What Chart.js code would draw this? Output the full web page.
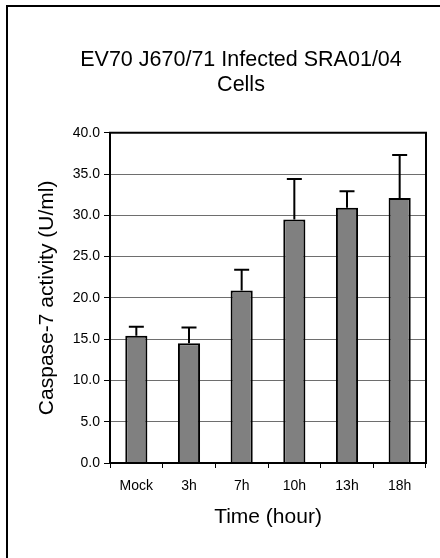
<!DOCTYPE html>
<html>
<head>
<meta charset="utf-8">
<title>Caspase-7 activity</title>
<script src="https://cdn.jsdelivr.net/npm/chart.js"></script>
<style>
	html, body { margin: 0; padding: 0; background: #fff; }
	#chart-box { width: 440px; height: 558px; }
</style>
</head>
<body>
<div id="chart-box"><canvas id="bar-chartcanvas"></canvas></div>
<script>
var categories = ["Mock", "3h", "7h", "10h", "13h", "18h"];
var caspase7 = [15.4, 14.5, 20.9, 29.5, 30.9, 32.1];
var errorUp = [1.1, 1.9, 2.5, 4.9, 2.0, 5.2];
var yTicks = [0, 5, 10, 15, 20, 25, 30, 35, 40];
var titleLines = ["EV70 J670/71 Infected SRA01/04", "Cells"];

Chart.defaults.font.family = "'Liberation Sans', Arial, sans-serif";
Chart.defaults.color = "#000";

/**
 * white page + the outer frame (only top and left show, the rest is cut off)
 * and the black box round the plot area
 */
var framePlugin = {
	id : "frame",
	beforeDraw : function(chart) {
		var ctx = chart.ctx;
		ctx.save();
		ctx.fillStyle = "#fff";
		ctx.fillRect(0, 0, chart.width, chart.height);
		ctx.strokeStyle = "#000";
		ctx.lineWidth = 2;
		ctx.strokeRect(7, 6, chart.width + 20, chart.height + 20);
		ctx.restore();
	},
	afterDraw : function(chart) {
		var a = chart.chartArea;
		var ctx = chart.ctx;
		ctx.save();
		ctx.strokeStyle = "#000";
		ctx.lineWidth = 2;
		ctx.strokeRect(a.left, a.top, a.right - a.left, a.bottom - a.top);
		ctx.restore();
	}
};

// upper error bars, drawn from the data through the y scale
var errorBarPlugin = {
	id : "errorBars",
	afterDatasetsDraw : function(chart) {
		var ctx = chart.ctx;
		var yScale = chart.scales.y;
		var meta = chart.getDatasetMeta(0);
		ctx.save();
		ctx.strokeStyle = "#000";
		ctx.lineWidth = 2;
		ctx.lineCap = "butt";
		meta.data.forEach(function(bar, i) {
			var top = yScale.getPixelForValue(caspase7[i] + errorUp[i]);
			ctx.beginPath();
			ctx.moveTo(bar.x, bar.y);
			ctx.lineTo(bar.x, top);
			ctx.moveTo(bar.x - 7.5, top);
			ctx.lineTo(bar.x + 7.5, top);
			ctx.stroke();
		});
		ctx.restore();
	}
};

var data = {
	labels : categories,
	datasets : [
		{
			label : "Caspase-7 activity",
			data : caspase7,
			backgroundColor : "#808080",
			borderColor : "#000",
			borderWidth : 2,
			barPercentage : 0.42,
			categoryPercentage : 1
		}
	]
};

var options = {
	responsive : true,
	maintainAspectRatio : false,
	animation : false,
	layout : {
		// left padding pushes the chart title over to where it sits in the original
		padding : { left : 56, right : 14, top : 0, bottom : 0 }
	},
	plugins : {
		legend : { display : false },
		tooltip : { enabled : false },
		title : {
			display : true,
			text : titleLines,
			color : "#000",
			font : { size : 21.5, weight : "normal", lineHeight : 1.18 },
			padding : { top : 47, bottom : 35 }
		}
	},
	scales : {
		x : {
			grid : {
				display : true,
				drawOnChartArea : false,
				drawTicks : true,
				tickLength : 5,
				tickColor : "#000",
				tickWidth : 1,
				offset : true
			},
			border : { display : true, color : "#000", width : 2 },
			ticks : { color : "#000", font : { size : 14 }, padding : 10 },
			title : {
				display : true,
				text : "Time (hour)",
				color : "#000",
				font : { size : 21 },
				padding : { top : 0, bottom : 28 }
			},
			afterFit : function(scale) { scale.height = 95; }
		},
		y : {
			min : 0,
			max : 40,
			afterBuildTicks : function(scale) {
				scale.ticks = yTicks.map(function(v) { return { value : v }; });
			},
			grid : {
				color : "#6e6e6e",
				lineWidth : 1,
				tickLength : 6,
				tickColor : "#000",
				tickWidth : 1
			},
			border : { display : true, color : "#000", width : 2 },
			ticks : {
				color : "#000",
				font : { size : 14 },
				padding : 4,
				callback : function(value) { return Number(value).toFixed(1); }
			},
			title : {
				display : true,
				text : "Caspase-7 activity (U/ml)",
				color : "#000",
				font : { size : 21 },
				// negative: the axis box starts right of the title in this layout
				padding : { top : -21.6, bottom : 0 }
			},
			afterFit : function(scale) { scale.width = 54; }
		}
	}
};

var ctx = document.getElementById("bar-chartcanvas");
var chart = new Chart(ctx, {
	type : "bar",
	data : data,
	options : options,
	plugins : [framePlugin, errorBarPlugin]
});
</script>
</body>
</html>
